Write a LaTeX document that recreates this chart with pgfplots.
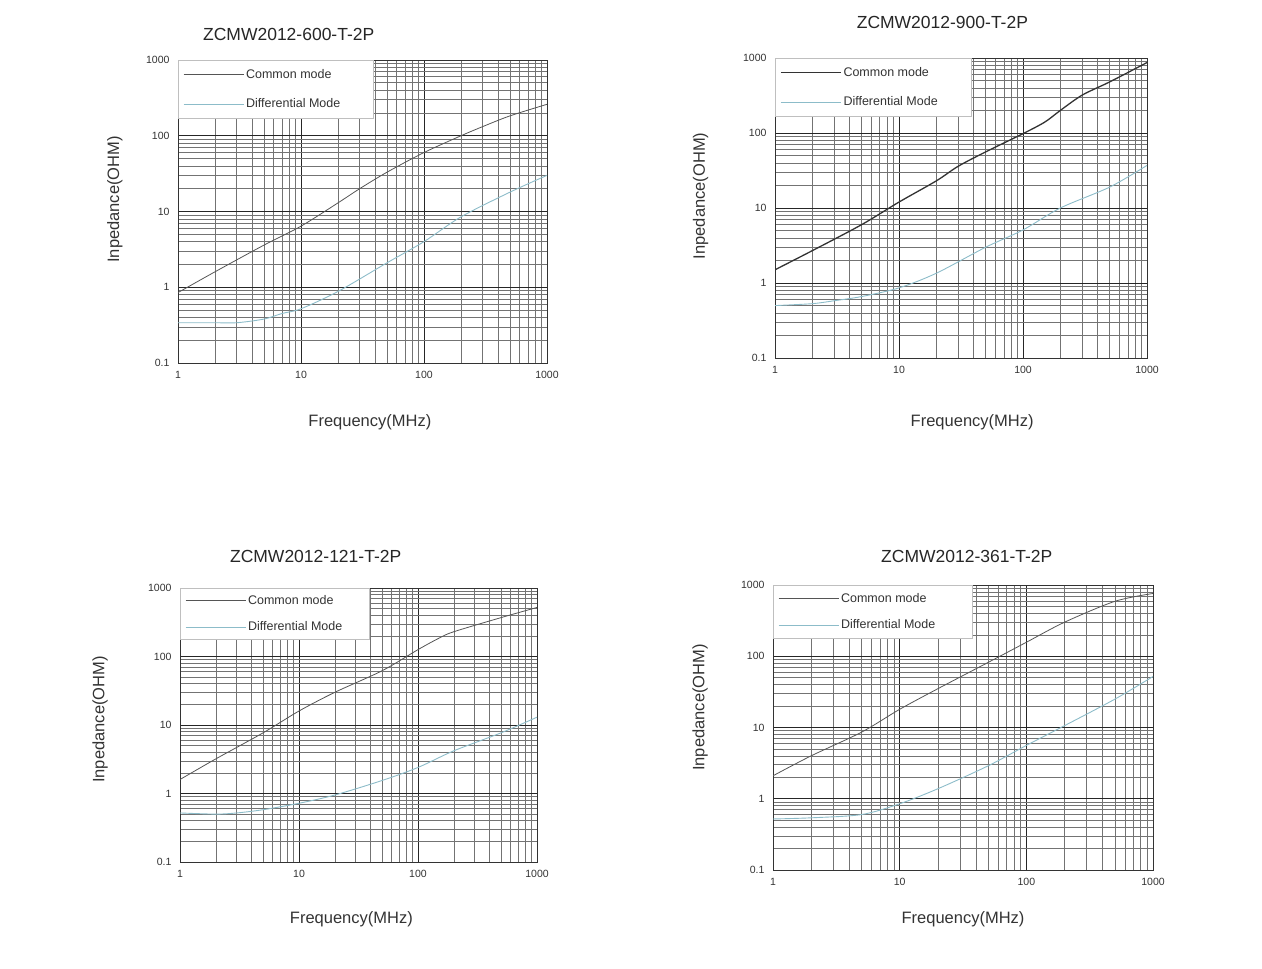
\documentclass[border=0pt]{standalone}
\usepackage{fontspec}
\setmainfont{Liberation Sans}
\usepackage{pgfplots}
\pgfplotsset{compat=1.18}

\definecolor{cmline}{HTML}{555555}
\definecolor{dmline}{HTML}{8CBCC9}
\definecolor{lbl}{HTML}{333333}

\pgfplotsset{
  legend image code/.code={\draw[#1] (0pt,0pt) -- (60pt,0pt);},
}
\tikzset{
  commonline/.style={color=cmline, line width=0.8pt, smooth},
  diffline/.style={color=dmline, line width=0.9pt, smooth},
}
\pgfplotsset{
  zcaxis/.style={
    scale only axis,
    anchor=south west,
    xmin=1, xmax=1000, ymin=0.1, ymax=1000,
    xtick={1,10,100,1000}, xticklabels={1,10,100,1000},
    ytick={0.1,1,10,100,1000}, yticklabels={0.1,1,10,100,1000},
    grid=both,
    major grid style={black!85, line width=0.9pt},
    minor grid style={black!55, line width=0.6pt},
    axis line style={black!80, line width=0.9pt},
    tick style={draw=none},
    tick label style={font=\fontsize{10.5}{12}\selectfont, text=lbl},
    xticklabel style={yshift=-5pt},
    yticklabel style={xshift=-5pt},
    label style={font=\fontsize{16.5}{19}\selectfont, text=lbl},
    title style={font=\fontsize{17.5}{20}\selectfont, text=black!85, anchor=center},
    legend cell align=left,
    legend style={at={(0,1)}, anchor=north west, draw=black!25, fill=white,
      font=\fontsize{12.5}{14}\selectfont, text=lbl, row sep=15pt,
      inner xsep=5pt, inner ysep=7pt},
  }
}

\begin{document}
\begin{tikzpicture}
\useasboundingbox (0,0) rectangle (1262pt,969pt);

% ZCMW2012-600-T-2P  (px box 178..547 x 60..363)
\begin{loglogaxis}[zcaxis, at={(178pt,606pt)}, width=369pt, height=303pt,
  title={ZCMW2012-600-T-2P}, title style={at={(axis description cs:0.30,1)}, yshift=20pt},
  xlabel={Frequency(MHz)}, xlabel style={at={(axis description cs:0.52,0)}, yshift=-59pt, anchor=center},
  ylabel={Inpedance(OHM)}, ylabel style={at={(axis description cs:-0.171,0.54)}, anchor=center}]
\addplot[commonline] coordinates {(1,0.85) (2,1.6) (5,3.6) (10,6.4) (20,13) (30,20) (50,33) (100,60) (200,100) (300,132) (500,183) (1000,260)};
\addlegendentry{Common mode}
\addplot[diffline] coordinates {(1,0.34) (2,0.34) (3,0.34) (5,0.38) (7,0.45) (10,0.52) (20,0.88) (50,2.1) (100,4.0) (200,8.5) (500,18) (1000,30)};
\addlegendentry{Differential Mode\rule{26pt}{0pt}}
\end{loglogaxis}

% ZCMW2012-900-T-2P  (px box 775..1147 x 58..358)
\begin{loglogaxis}[zcaxis, at={(775pt,611pt)}, width=372pt, height=300pt,
  title={ZCMW2012-900-T-2P}, title style={at={(axis description cs:0.45,1)}, yshift=30pt},
  xlabel={Frequency(MHz)}, xlabel style={at={(axis description cs:0.53,0)}, yshift=-64pt, anchor=center},
  ylabel={Inpedance(OHM)}, ylabel style={at={(axis description cs:-0.20,0.54)}, anchor=center}]
\addplot[commonline, line width=1.3pt, color=black!80] coordinates {(1,1.5) (2,2.7) (5,6) (10,12) (20,23) (30,36) (50,56) (100,98) (150,140) (200,200) (300,320) (500,480) (1000,870)};
\addlegendentry{Common mode}
\addplot[diffline] coordinates {(1,0.5) (2,0.53) (3,0.58) (5,0.66) (10,0.86) (20,1.35) (50,3.0) (100,5.1) (200,10) (500,19) (1000,37)};
\addlegendentry{Differential Mode\rule{26pt}{0pt}}
\end{loglogaxis}

% ZCMW2012-121-T-2P  (px box 180..537 x 588..862)
\begin{loglogaxis}[zcaxis, at={(180pt,107pt)}, width=357pt, height=274pt,
  legend style={row sep=12pt, inner ysep=5pt},
  title={ZCMW2012-121-T-2P}, title style={at={(axis description cs:0.38,1)}, yshift=26pt},
  xlabel={Frequency(MHz)}, xlabel style={at={(axis description cs:0.48,0)}, yshift=-57pt, anchor=center},
  ylabel={Inpedance(OHM)}, ylabel style={at={(axis description cs:-0.224,0.52)}, anchor=center}]
\addplot[commonline] coordinates {(1,1.6) (2,3.2) (5,7.7) (10,16) (20,30) (50,62) (100,126) (150,185) (200,230) (500,370) (1000,520)};
\addlegendentry{Common mode}
\addplot[diffline] coordinates {(1,0.52) (2,0.5) (3,0.52) (5,0.58) (10,0.72) (20,0.95) (50,1.55) (100,2.4) (200,4.2) (500,7.7) (1000,13)};
\addlegendentry{Differential Mode\rule{20pt}{0pt}}
\end{loglogaxis}

% ZCMW2012-361-T-2P  (px box 773..1153 x 585..870)
\begin{loglogaxis}[zcaxis, at={(773pt,99pt)}, width=380pt, height=285pt,
  legend style={row sep=12pt, inner ysep=6pt},
  title={ZCMW2012-361-T-2P}, title style={at={(axis description cs:0.51,1)}, yshift=23pt},
  xlabel={Frequency(MHz)}, xlabel style={at={(axis description cs:0.5,0)}, yshift=-49pt, anchor=center},
  ylabel={Inpedance(OHM)}, ylabel style={at={(axis description cs:-0.192,0.57)}, anchor=center}]
\addplot[commonline] coordinates {(1,2.1) (2,4.0) (5,8.6) (10,18) (20,35) (50,82) (100,157) (200,300) (500,590) (1000,760)};
\addlegendentry{Common mode}
\addplot[diffline] coordinates {(1,0.52) (2,0.54) (5,0.6) (10,0.85) (20,1.38) (50,2.9) (100,5.6) (200,10.6) (500,25) (1000,52)};
\addlegendentry{Differential Mode\rule{30pt}{0pt}}
\end{loglogaxis}
\end{tikzpicture}
\end{document}
